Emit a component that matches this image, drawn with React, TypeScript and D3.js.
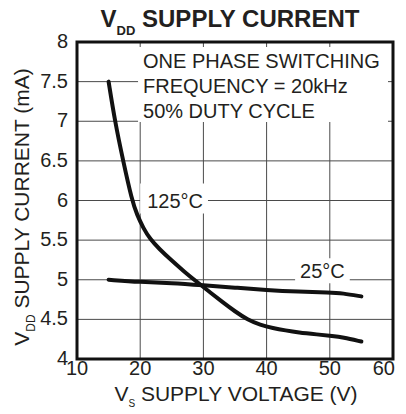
import React, { useEffect, useRef } from "react";
import * as d3 from "d3";

// 125°C curve
const voltage125 = [15, 16, 17.3, 18.7, 19.5, 20.5, 21.6, 23, 25, 27, 29, 31, 33, 35, 37, 39, 41, 43, 45, 48, 50.5, 52, 55];
const current125 = [7.5, 7.0, 6.5, 6.0, 5.82, 5.65, 5.51, 5.39, 5.24, 5.1, 4.97, 4.845, 4.72, 4.6, 4.495, 4.43, 4.39, 4.36, 4.335, 4.31, 4.29, 4.275, 4.22];

// 25°C curve
const voltage25 = [15, 20, 25, 30, 35, 40, 45, 50, 52, 55];
const current25 = [5.0, 4.97, 4.96, 4.93, 4.9, 4.87, 4.85, 4.84, 4.83, 4.79];

const xTicks = [10, 20, 30, 40, 50, 60];
const yTicks = [4, 4.5, 5, 5.5, 6, 6.5, 7, 7.5, 8];
const noteLines = ["ONE PHASE SWITCHING", "FREQUENCY = 20kHz", "50% DUTY CYCLE"];

const FONT = "'Liberation Sans', Arial, Helvetica, sans-serif";
const INK = "#231f20";

const App: React.FC = () => {
  const svgRef = useRef<SVGSVGElement>(null);

  useEffect(() => {
    if (!svgRef.current) return;
    const svg = d3.select(svgRef.current);
    svg.selectAll("*").remove();

    const width = 406;
    const height = 414;
    const margin = { top: 42, right: 13, bottom: 55, left: 77 };
    const x0 = margin.left;
    const x1 = width - margin.right;
    const y0 = margin.top;
    const y1 = height - margin.bottom;

    const xScale = d3.scaleLinear().domain([10, 60]).range([x0, x1]);
    const yScale = d3.scaleLinear().domain([4, 8]).range([y1, y0]);

    // grid lines
    const grid = svg.append("g").attr("stroke", "#4a4a4a").attr("stroke-width", 1);
    grid
      .selectAll(".vgrid")
      .data(xTicks.slice(1, -1))
      .enter()
      .append("line")
      .attr("x1", (d) => xScale(d))
      .attr("x2", (d) => xScale(d))
      .attr("y1", y0)
      .attr("y2", y1);
    grid
      .selectAll(".hgrid")
      .data(yTicks.slice(1, -1))
      .enter()
      .append("line")
      .attr("x1", x0)
      .attr("x2", x1)
      .attr("y1", (d) => yScale(d))
      .attr("y2", (d) => yScale(d));

    // note box, white behind text
    const noteG = svg.append("g");
    const noteRect = noteG.append("rect").attr("fill", "#fff");
    const noteText = noteG
      .append("text")
      .attr("font-family", FONT)
      .attr("font-size", 20)
      .attr("fill", INK);
    noteLines.forEach((t, i) => {
      noteText
        .append("tspan")
        .attr("x", xScale(20.45))
        .attr("y", y0 + 26 + i * 25)
        .text(t);
    });
    const nb = (noteText.node() as SVGTextElement).getBBox();
    noteRect
      .attr("x", nb.x - 5)
      .attr("y", y0 + 5)
      .attr("width", x1 - 5 - (nb.x - 5))
      .attr("height", nb.y + nb.height - (y0 + 5));

    // curve labels with white backing
    const addLabel = (txt: string, vx: number, baseline: number, padL: number, padR: number, padT: number, padB: number) => {
      const g = svg.append("g");
      const r = g.append("rect").attr("fill", "#fff");
      const t = g
        .append("text")
        .attr("x", xScale(vx))
        .attr("y", baseline)
        .attr("font-family", FONT)
        .attr("font-size", 20)
        .attr("fill", INK)
        .text(txt);
      const b = (t.node() as SVGTextElement).getBBox();
      r.attr("x", b.x - padL)
        .attr("y", b.y - padT)
        .attr("width", b.width + padL + padR)
        .attr("height", b.height + padT + padB);
    };
    addLabel("125°C", 21.1, yScale(6) + 7, 7, 5, 6, 2);
    addLabel("25°C", 45.3, yScale(5) - 1.5, 5, 5, 2, 1);

    // curves
    const line = d3
      .line<[number, number]>()
      .x((d) => xScale(d[0]))
      .y((d) => yScale(d[1]))
      .curve(d3.curveBasis);

    const series = [
      voltage125.map((v, i) => [v, current125[i]] as [number, number]),
      voltage25.map((v, i) => [v, current25[i]] as [number, number]),
    ];
    svg
      .selectAll(".curve")
      .data(series)
      .enter()
      .append("path")
      .attr("d", (d) => line(d))
      .attr("fill", "none")
      .attr("stroke", "#111")
      .attr("stroke-width", 4)
      .attr("stroke-linecap", "round")
      .attr("stroke-linejoin", "round");

    // frame
    svg
      .append("rect")
      .attr("x", x0)
      .attr("y", y0)
      .attr("width", x1 - x0)
      .attr("height", y1 - y0)
      .attr("fill", "none")
      .attr("stroke", "#111")
      .attr("stroke-width", 3);

    // x tick labels
    svg
      .selectAll(".xlab")
      .data(xTicks)
      .enter()
      .append("text")
      .attr("x", (d, i) => (i === xTicks.length - 1 ? xScale(d) + 2 : xScale(d)))
      .attr("y", y1 + 16)
      .attr("text-anchor", (d, i) => (i === xTicks.length - 1 ? "end" : "middle"))
      .attr("font-family", FONT)
      .attr("font-size", 20)
      .attr("fill", INK)
      .text((d) => String(d));

    // y tick labels
    svg
      .selectAll(".ylab")
      .data(yTicks)
      .enter()
      .append("text")
      .attr("x", x0 - 9)
      .attr("y", (d) => yScale(d) + 6)
      .attr("text-anchor", "end")
      .attr("font-family", FONT)
      .attr("font-size", 20)
      .attr("fill", INK)
      .text((d) => String(d));

    // title
    const title = svg
      .append("text")
      .attr("x", 230)
      .attr("y", 27)
      .attr("text-anchor", "middle")
      .attr("font-family", FONT)
      .attr("font-weight", "bold")
      .attr("fill", INK);
    title.append("tspan").attr("font-size", 24).text("V");
    title.append("tspan").attr("font-size", 13).attr("dy", 8).text("DD");
    title.append("tspan").attr("font-size", 24).attr("dy", -8).text(" SUPPLY CURRENT");

    // x axis title
    const xt = svg
      .append("text")
      .attr("x", 236)
      .attr("y", 401)
      .attr("text-anchor", "middle")
      .attr("font-family", FONT)
      .attr("fill", INK);
    xt.append("tspan").attr("font-size", 21).text("V");
    xt.append("tspan").attr("font-size", 10).attr("dy", 6).text("S");
    xt.append("tspan").attr("font-size", 21).attr("dy", -6).text(" SUPPLY VOLTAGE (V)");

    // y axis title
    const yt = svg
      .append("text")
      .attr("transform", "rotate(-90)")
      .attr("x", -207)
      .attr("y", 29)
      .attr("text-anchor", "middle")
      .attr("font-family", FONT)
      .attr("fill", INK);
    yt.append("tspan").attr("font-size", 21).text("V");
    yt.append("tspan").attr("font-size", 12).attr("dy", 6).text("DD");
    yt.append("tspan").attr("font-size", 21).attr("dy", -6).text(" SUPPLY CURRENT (mA)");
  }, []);

  return (
    <svg
      ref={svgRef}
      width={406}
      height={414}
      viewBox="0 0 406 414"
      style={{ position: "absolute", left: 0, top: 0, background: "#fff" }}
    ></svg>
  );
};

export default App;
